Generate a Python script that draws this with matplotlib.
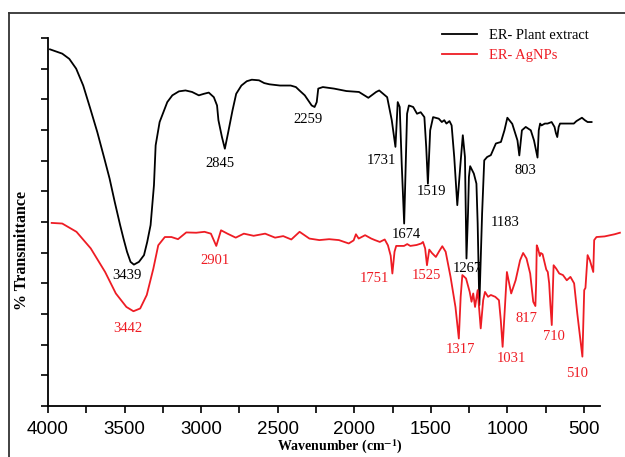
import numpy as np
import matplotlib.pyplot as plt
from matplotlib.lines import Line2D

plt.rcParams['mathtext.fontset'] = 'stix'

# FTIR spectra: wavenumber (cm-1), transmittance (arbitrary offset units)
plant_extract = np.array([
    [3987, 116.3], [3907, 114.9], [3861, 113.2], [3816, 110.0], [3770, 104.5],
    [3724, 97.0], [3678, 89.3], [3632, 80.7], [3598, 74.2], [3564, 66.5],
    [3529, 59.0], [3507, 54.6], [3484, 50.3], [3461, 47.0], [3439, 46.1],
    [3406, 47.0], [3373, 49.2], [3352, 53.5], [3330, 59.0], [3308, 72.0],
    [3297, 85.0], [3286, 88.3], [3271, 92.6], [3254, 94.8], [3221, 99.1],
    [3188, 101.3], [3145, 102.6], [3102, 102.9], [3059, 102.4], [3015, 101.3],
    [2982, 101.8], [2950, 102.2], [2917, 100.7], [2896, 98.0], [2887, 93.2],
    [2864, 87.7], [2845, 83.9], [2825, 88.8], [2795, 96.4], [2771, 101.8],
    [2737, 104.5], [2702, 105.9], [2669, 106.4], [2622, 106.2], [2588, 105.3],
    [2554, 104.9], [2485, 104.5], [2415, 104.5], [2381, 104.0], [2358, 102.9],
    [2323, 101.3], [2300, 99.6], [2278, 98.0], [2259, 97.5], [2245, 99.1],
    [2235, 103.5], [2205, 104.0], [2132, 103.5], [2051, 102.7], [1969, 102.4],
    [1908, 100.5], [1857, 102.4], [1837, 102.9], [1785, 100.7], [1755, 93.2],
    [1731, 84.5], [1716, 99.1], [1703, 97.5], [1690, 79.0], [1674, 59.5],
    [1655, 95.3], [1643, 98.0], [1615, 97.5], [1590, 95.3], [1566, 95.8],
    [1542, 94.2], [1530, 84.5], [1519, 72.5], [1504, 89.9], [1485, 94.2],
    [1448, 93.7], [1428, 92.6], [1412, 93.2], [1398, 92.1], [1378, 92.9],
    [1364, 91.5], [1347, 81.2], [1327, 65.5], [1308, 77.9], [1291, 88.3],
    [1277, 81.2], [1267, 48.1], [1257, 62.9], [1251, 74.7], [1243, 78.2],
    [1230, 76.9], [1219, 75.8], [1202, 72.5], [1194, 59.6], [1183, 32.9],
    [1165, 62.7], [1151, 80.1], [1132, 81.2], [1108, 81.8], [1075, 85.6],
    [1042, 86.1], [1019, 89.9], [1000, 94.0], [968, 92.0], [934, 86.6],
    [922, 81.7], [905, 89.9], [880, 91.0], [847, 89.9], [826, 86.6],
    [803, 81.0], [795, 89.9], [786, 92.1], [777, 91.5], [755, 92.1],
    [737, 92.1], [711, 92.6], [692, 91.0], [683, 89.0], [674, 87.7],
    [665, 91.0], [656, 92.1], [566, 92.1], [549, 92.9], [513, 94.0],
    [494, 93.2], [476, 92.6], [450, 92.6],
])

agnps = np.array([
    [3976, 59.7], [3907, 59.5], [3814, 56.8], [3721, 51.4], [3627, 43.7],
    [3557, 36.7], [3488, 32.3], [3442, 30.9], [3398, 31.8], [3355, 36.2],
    [3312, 44.8], [3280, 52.4], [3237, 55.1], [3194, 55.1], [3151, 54.4],
    [3097, 56.6], [3032, 56.5], [2978, 56.8], [2936, 56.2], [2901, 52.2],
    [2870, 57.3], [2828, 56.2], [2774, 54.9], [2721, 56.2], [2657, 55.5],
    [2582, 56.2], [2517, 54.9], [2464, 55.4], [2411, 54.3], [2357, 56.8],
    [2293, 54.6], [2228, 54.1], [2164, 54.4], [2100, 54.1], [2036, 53.0],
    [2004, 54.0], [1989, 56.0], [1971, 54.6], [1929, 55.7], [1889, 54.6],
    [1865, 54.1], [1833, 53.5], [1801, 54.3], [1780, 52.4], [1762, 49.0],
    [1751, 43.2], [1737, 50.3], [1726, 52.2], [1675, 52.2], [1654, 52.8],
    [1634, 52.2], [1593, 52.5], [1562, 53.0], [1551, 53.5], [1537, 51.4],
    [1525, 45.9], [1510, 51.0], [1493, 49.9], [1467, 48.6], [1445, 50.5],
    [1425, 52.1], [1403, 50.3], [1371, 42.1], [1339, 32.3], [1317, 22.0],
    [1305, 35.6], [1294, 42.7], [1270, 41.6], [1246, 37.2], [1234, 34.0],
    [1223, 36.7], [1211, 32.3], [1194, 37.8], [1174, 25.3], [1158, 34.5],
    [1146, 37.2], [1126, 35.6], [1108, 36.2], [1079, 35.6], [1055, 34.5],
    [1043, 28.0], [1031, 19.3], [1017, 31.3], [1003, 43.7], [975, 36.7],
    [946, 41.0], [917, 47.5], [897, 49.9], [875, 48.1], [851, 43.2],
    [831, 34.0], [817, 32.6], [812, 40.0], [808, 52.4], [800, 51.4],
    [788, 48.9], [782, 49.9], [770, 49.5], [758, 47.0], [746, 44.5],
    [736, 43.7], [727, 40.0], [719, 33.0], [710, 26.4], [698, 45.9],
    [681, 44.8], [661, 43.2], [637, 42.7], [612, 41.0], [588, 42.1],
    [564, 40.0], [543, 30.0], [510, 16.1], [498, 37.8], [490, 38.5],
    [476, 49.2], [461, 47.5], [439, 43.7], [433, 54.1], [418, 55.1],
    [365, 55.3], [300, 56.0], [265, 56.5],
])

plant_peaks = [3439, 2845, 2259, 1731, 1674, 1519, 1267, 1183, 803]
agnp_peaks = [3442, 2901, 1751, 1525, 1317, 1031, 817, 710, 510]

# where each peak label sits relative to its band minimum (dx in cm-1, dy in T)
plant_offsets = [(47, -3.7), (32, -4.9), (41, -4.1), (90, -4.4), (-16, -3.5),
                 (-24, -2.7), (-6, -3.3), (-167, 27.0), (82, -4.1)]
agnp_offsets = [(39, -5.5), (8, -4.7), (120, -1.5), (4, -3.2), (-8, -3.6),
                (-59, -3.8), (57, -4.0), (-16, -3.6), (38, -5.5)]

red = '#ee1c24'
serif = 'Liberation Serif'

fig = plt.figure(figsize=(6.25, 4.57), dpi=100)
ax = fig.add_axes([48 / 625, 1 - 406 / 457, 552 / 625, 368 / 457])

ax.plot(plant_extract[:, 0], plant_extract[:, 1], color='black', lw=1.3)
ax.plot(agnps[:, 0], agnps[:, 1], color=red, lw=1.3, clip_on=False)

ax.set_xlim(4000, 395)
ax.set_ylim(0, 120)
ax.set_xticks(np.arange(4000, 499, -500))
ax.set_xticks(np.arange(3750, 400, -500), minor=True)
ax.set_yticks(np.arange(0, 121, 10))
ax.set_yticklabels([])
ax.tick_params(axis='both', which='both', direction='out', length=5, width=1.2)
ax.tick_params(axis='x', labelsize=13.5, pad=6)
for lbl in ax.get_xticklabels():
    lbl.set_family('Liberation Sans')
for side in ['top', 'right']:
    ax.spines[side].set_visible(False)
for side in ['left', 'bottom']:
    ax.spines[side].set_linewidth(1.3)

ax.set_xlabel(r'Wavenumber (cm$^{\mathbf{-1}}$)', family=serif, weight='bold', fontsize=10)
ax.xaxis.set_label_coords((340 - 48) / 552, (406 - 438) / 368)
ax.set_ylabel('% Transmittance', family=serif, weight='bold', fontsize=11.5)
ax.yaxis.set_label_coords((30 - 48) / 552, (406 - 251) / 368)


def label_peaks(data, peaks, offsets, color):
    wn = list(data[:, 0])
    for p, (dx, dy) in zip(peaks, offsets):
        t = data[wn.index(p), 1]
        ax.text(p + dx, t + dy, str(p), color=color, family=serif, fontsize=10.5,
                ha='center', va='center', clip_on=False)


label_peaks(plant_extract, plant_peaks, plant_offsets, 'black')
label_peaks(agnps, agnp_peaks, agnp_offsets, red)

handles = [Line2D([], [], color='black', lw=1.3), Line2D([], [], color=red, lw=1.3)]
leg = ax.legend(handles, ['ER- Plant extract', 'ER- AgNPs'], loc='upper left',
                bbox_to_anchor=(442 / 625, 1 - 29 / 457), bbox_transform=fig.transFigure,
                frameon=False, prop={'family': serif, 'size': 10.5}, handlelength=2.4,
                handletextpad=0.8, labelspacing=0.45, borderpad=0, borderaxespad=0)
for txt, c in zip(leg.get_texts(), ['black', red]):
    txt.set_color(c)

# outer frame around the figure
fig.add_artist(Line2D([9 / 625, 1], [1 - 13 / 457] * 2, color='#333333', lw=1.3,
                      transform=fig.transFigure))
fig.add_artist(Line2D([9 / 625] * 2, [0, 1 - 13 / 457], color='#333333', lw=1.3,
                      transform=fig.transFigure))

fig.savefig('out.png', dpi=100)
